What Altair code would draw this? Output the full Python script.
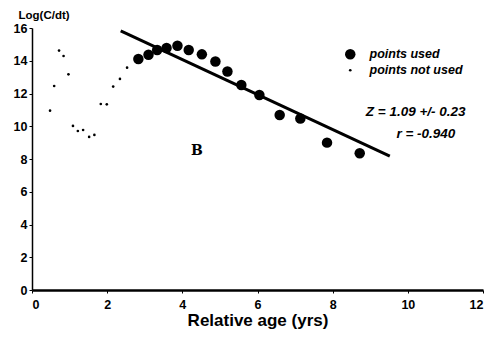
import altair as alt
import pandas as pd

# points not used
nu_x = [0.48, 0.59, 0.72, 0.84, 0.97, 1.09, 1.22, 1.36, 1.52, 1.66, 1.83, 1.99, 2.16, 2.34, 2.53]
nu_y = [10.95, 12.46, 14.62, 14.29, 13.17, 10.02, 9.71, 9.77, 9.35, 9.47, 11.36, 11.34, 12.42, 12.89, 13.58]
# points used
u_x = [2.83, 3.10, 3.33, 3.58, 3.87, 4.17, 4.52, 4.88, 5.20, 5.57, 6.05, 6.59, 7.14, 7.85, 8.72]
u_y = [14.11, 14.37, 14.66, 14.78, 14.92, 14.66, 14.39, 13.95, 13.34, 12.52, 11.91, 10.69, 10.47, 9.0, 8.35]
# regression line
line_x = [2.36, 9.52]
line_y = [15.82, 8.18]
# annotations
ann_text = ["Z = 1.09 +/- 0.23", "r = -0.940"]
ann_x = [10.21, 10.48]
ann_y = [10.85, 9.55]
label_text = ["B"]
label_x = [4.39]
label_y = [8.51]
x_ticks = [0, 2, 4, 6, 8, 10, 12]
y_ticks = [0, 2, 4, 6, 8, 10, 12, 14, 16]

FONT = "Liberation Sans"

pts = pd.DataFrame({
    "x": nu_x + u_x,
    "y": nu_y + u_y,
    "kind": ["points not used"] * len(nu_x) + ["points used"] * len(u_x),
})
line_df = pd.DataFrame({"x": line_x, "y": line_y})
ann_df = pd.DataFrame({"x": ann_x, "y": ann_y, "t": ann_text})
lab_df = pd.DataFrame({"x": label_x, "y": label_y, "t": label_text})

xs = alt.Scale(domain=[0, 12], nice=False, zero=False)
ys = alt.Scale(domain=[0, 16], nice=False, zero=False)

xaxis = alt.Axis(values=x_ticks, title="Relative age (yrs)", grid=False,
                 labelFont=FONT, labelFontWeight="bold", labelFontSize=12.5,
                 labelColor="black", tickColor="black", tickSize=3,
                 labelPadding=5,
                 domainColor="black", domainWidth=2.5,
                 titleFont=FONT, titleFontSize=17, titleFontWeight="bold",
                 titleColor="black", titlePadding=2)
yaxis = alt.Axis(values=y_ticks, title="Log(C/dt)", grid=False,
                 labelFont=FONT, labelFontWeight="bold", labelFontSize=12.5,
                 labelColor="black", tickColor="black", tickSize=3,
                 labelOverlap=False, labelFlush=False, labelPadding=2,
                 domainColor="black", domainWidth=1.5,
                 titleFont=FONT, titleFontSize=11.5, titleFontWeight="bold",
                 titleColor="black", titleAngle=0, titleAlign="left",
                 titleBaseline="middle", titleX=-14, titleY=-13)

X = alt.X("x:Q", scale=xs, axis=xaxis)
Y = alt.Y("y:Q", scale=ys, axis=yaxis)

points = alt.Chart(pts).mark_circle(opacity=1).encode(
    x=X, y=Y,
    color=alt.Color("kind:N", scale=alt.Scale(domain=["points used", "points not used"],
                                              range=["black", "black"]), title=None),
    size=alt.Size("kind:N", scale=alt.Scale(domain=["points used", "points not used"],
                                            range=[110, 7]), title=None),
)

line = alt.Chart(line_df).mark_line(color="black", strokeWidth=3).encode(x=X, y=Y)

ann = alt.Chart(ann_df).mark_text(font=FONT, fontSize=13.5, fontWeight="bold",
                                  fontStyle="italic", color="black").encode(
    x=X, y=Y, text="t:N")

lab = alt.Chart(lab_df).mark_text(font="DejaVu Serif", fontSize=14, fontWeight="bold",
                                  color="black").encode(
    x=X, y=Y, text="t:N")

chart = alt.layer(points, line, ann, lab).properties(
    width=451, height=262,
    autosize=alt.AutoSizeParams(type="none"),
    padding={"left": 24, "top": 20, "right": 9, "bottom": 46},
).configure_view(stroke=None).configure_legend(
    orient="none", legendX=312, legendY=20,
    labelFont=FONT, labelFontSize=12.5, labelFontWeight="bold",
    labelFontStyle="italic", labelColor="black", rowPadding=3, labelOffset=13,
)

chart.save("out.html", embed_options={"renderer": "svg", "actions": False})
